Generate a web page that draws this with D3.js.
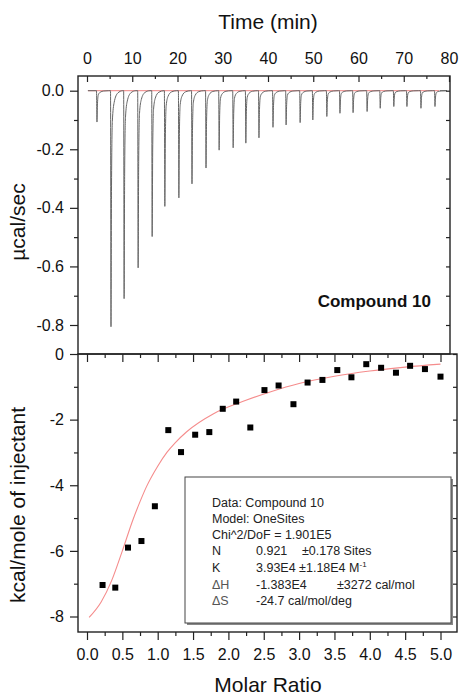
<!DOCTYPE html>
<html>
<head>
<meta charset="utf-8">
<script src="https://cdn.jsdelivr.net/npm/d3@7"></script>
<style>
  body { margin: 0; background: #fff; }
  text { font-family: "Liberation Sans", Arial, sans-serif; fill: #111; }
  .axis path { display: none; }
  .axis line { stroke: #222; stroke-width: 1.2; }
</style>
</head>
<body>
<div id="chart"></div>
<script>
// raw thermogram: injection times (min) and peak minimum (ucal/sec)
var injTime = [2.2, 5.3, 8.2, 11.3, 14.4, 17.2, 20.3, 23.2, 26.3, 29.2, 32.3, 35.1, 38.0,
               41.1, 44.0, 47.1, 49.9, 53.0, 55.9, 58.8, 61.9, 64.8, 67.8, 70.7, 73.8, 76.9];
var injPeak = [-0.107, -0.806, -0.71, -0.605, -0.498, -0.395, -0.366, -0.318, -0.264, -0.203,
               -0.195, -0.179, -0.161, -0.125, -0.117, -0.109, -0.10, -0.088, -0.077, -0.075,
               -0.071, -0.06, -0.054, -0.054, -0.06, -0.054];

// integrated heats
var molarRatio = [0.22, 0.40, 0.58, 0.77, 0.96, 1.15, 1.33, 1.53, 1.73, 1.92, 2.11, 2.31, 2.51,
                  2.71, 2.92, 3.12, 3.33, 3.54, 3.74, 3.95, 4.16, 4.37, 4.57, 4.78, 5.0];
var heatInj = [-7.04, -7.12, -5.9, -5.7, -4.64, -2.32, -2.99, -2.46, -2.38, -1.67, -1.45, -2.24, -1.1,
               -0.96, -1.53, -0.87, -0.79, -0.49, -0.71, -0.31, -0.42, -0.57, -0.36, -0.46, -0.69];

// fitted curve
var fitX = [0.03, 0.2, 0.35, 0.5, 0.65, 0.75, 0.84, 1.0, 1.13, 1.25, 1.41, 1.79, 2.2, 2.6, 3.0, 3.5, 4.0, 4.5, 5.0];
var fitY = [-8.03, -7.56, -6.9, -6.0, -5.05, -4.5, -4.05, -3.42, -3.0, -2.7, -2.37, -1.82, -1.45, -1.15, -0.9, -0.68, -0.52, -0.4, -0.31];

var timeTicks = d3.range(0, 81, 10);
var rateTicks = [0, -0.2, -0.4, -0.6, -0.8];
var ratioTicks = d3.range(0, 5.01, 0.5);
var heatTicks = [0, -2, -4, -6, -8];

var fitRows = [
  ["Data: Compound 10"],
  ["Model: OneSites"],
  ["Chi^2/DoF = 1.901E5"],
  ["N", "0.921", "\u00b10.178 Sites"],
  ["K", "3.93E4 \u00b11.18E4 M"],
  ["\u0394H", "-1.383E4", "\u00b13272 cal/mol"],
  ["\u0394S", "-24.7 cal/mol/deg"]
];

// shape of one injection spike: [minutes after injection, fraction of peak]
var peakProfile = [[-0.1, 0], [0, 1], [0.12, 0.4], [0.3, 0.13], [0.7, 0.05], [1.5, 0.01], [2.6, 0]];

var width = 459, height = 696;

var svg = d3.select("#chart").append("svg")
    .attr("width", width)
    .attr("height", height);

var pTop = {x0: 78, x1: 450, y0: 76, y1: 354},
    pBot = {x0: 78, x1: 457, y0: 354, y1: 632};

var xTime = d3.scaleLinear().domain([0, 80]).range([87, 449]);
var yRate = d3.scaleLinear().domain([0, -0.8]).range([90.7, 325]);
var xRatio = d3.scaleLinear().domain([0, 5]).range([87, 440.5]);
var yHeat = d3.scaleLinear().domain([0, -8]).range([354, 616.5]);

function dash(d) { return d.toFixed(1); }

function addAxis(axis, tx, ty, fs) {
  var g = svg.append("g").attr("class", "axis")
    .attr("transform", "translate(" + tx + "," + ty + ")")
    .call(axis);
  g.selectAll("text").style("font-size", fs + "px").attr("fill", "#111");
  return g;
}

// ---- top panel ----
var trace = [];
injTime.forEach(function(t, i) {
  peakProfile.forEach(function(p) {
    trace.push([t + p[0], injPeak[i] * p[1]]);
  });
});
trace.unshift([0.2, 0]);
trace.push([78, 0]);

svg.append("line")
  .attr("x1", xTime(0.2)).attr("x2", xTime(77.8))
  .attr("y1", yRate(0)).attr("y2", yRate(0))
  .style("stroke", "#f29a9a").style("stroke-width", 1.2);

svg.append("path")
  .datum(trace)
  .attr("d", d3.line()
      .curve(d3.curveMonotoneX)
      .x(function(d) { return xTime(d[0]); })
      .y(function(d) { return yRate(d[1]); }))
  .style("fill", "none")
  .style("stroke", "#666")
  .style("stroke-width", 1);

svg.append("rect")
  .attr("x", pTop.x0).attr("y", pTop.y0)
  .attr("width", pTop.x1 - pTop.x0).attr("height", pTop.y1 - pTop.y0)
  .style("fill", "none").style("stroke", "#222").style("stroke-width", 1.4);

addAxis(d3.axisTop(xTime).tickValues(d3.range(5, 80, 10)).tickSize(-3).tickFormat(""), 0, pTop.y0, 16);
addAxis(d3.axisTop(xTime).tickValues(timeTicks).tickSize(-6).tickPadding(12), 0, pTop.y0, 16);
addAxis(d3.axisLeft(yRate).tickValues([-0.1, -0.3, -0.5, -0.7]).tickSize(4).tickFormat(""), pTop.x0, 0, 16);
addAxis(d3.axisLeft(yRate).tickValues(rateTicks).tickSize(8).tickPadding(6).tickFormat(dash), pTop.x0, 0, 16);
addAxis(d3.axisRight(yRate).tickValues(d3.range(0, -0.85, -0.1)).tickSize(-4).tickFormat(""), pTop.x1, 0, 16);

svg.append("text")
  .attr("x", 431).attr("y", 307)
  .attr("text-anchor", "end")
  .style("font-size", "17px").style("font-weight", "bold")
  .text("Compound 10");

// ---- bottom panel ----
svg.append("rect")
  .attr("x", pBot.x0).attr("y", pBot.y0)
  .attr("width", pBot.x1 - pBot.x0).attr("height", pBot.y1 - pBot.y0)
  .style("fill", "none").style("stroke", "#222").style("stroke-width", 1.4);

var minorRatio = d3.range(0.25, 5, 0.5);
addAxis(d3.axisBottom(xRatio).tickValues(minorRatio).tickSize(4).tickFormat(""), 0, pBot.y0, 15);
addAxis(d3.axisBottom(xRatio).tickValues(ratioTicks).tickSize(8).tickFormat(""), 0, pBot.y0, 15);
addAxis(d3.axisBottom(xRatio).tickValues(minorRatio).tickSize(4).tickFormat(""), 0, pBot.y1, 15);
addAxis(d3.axisBottom(xRatio).tickValues(ratioTicks).tickSize(8).tickPadding(9).tickFormat(dash), 0, pBot.y1, 16);
addAxis(d3.axisLeft(yHeat).tickValues([-1, -3, -5, -7]).tickSize(4).tickFormat(""), pBot.x0, 0, 16);
addAxis(d3.axisLeft(yHeat).tickValues(heatTicks).tickSize(8).tickPadding(6).tickFormat(function(d) { return String(d); }), pBot.x0, 0, 16);
addAxis(d3.axisRight(yHeat).tickValues(d3.range(0, -8.5, -1)).tickSize(-4).tickFormat(""), pBot.x1, 0, 16);

// fit curve
svg.append("path")
  .datum(fitX.map(function(x, i) { return [x, fitY[i]]; }))
  .attr("d", d3.line()
      .curve(d3.curveMonotoneX)
      .x(function(d) { return xRatio(d[0]); })
      .y(function(d) { return yHeat(d[1]); }))
  .style("fill", "none")
  .style("stroke", "#f58c8c")
  .style("stroke-width", 1.1);

svg.selectAll("rect.pt")
  .data(molarRatio)
  .enter()
  .append("rect")
  .attr("class", "pt")
  .attr("x", function(d) { return xRatio(d) - 3; })
  .attr("y", function(d, i) { return yHeat(heatInj[i]) - 3; })
  .attr("width", 6).attr("height", 6)
  .style("fill", "#000");

// fit results box
svg.append("rect")
  .attr("x", 187).attr("y", 479).attr("width", 266).attr("height", 146)
  .style("fill", "#888");
svg.append("rect")
  .attr("x", 185).attr("y", 477).attr("width", 266).attr("height", 146)
  .style("fill", "#fff").style("stroke", "#444").style("stroke-width", 1);

var rowY = [506.5, 522.5, 538.5, 554.5, 571.5, 588.5, 605];
var colX = [212, 256, 302];
fitRows.forEach(function(row, i) {
  row.forEach(function(s, j) {
    var x = colX[j];
    if (i === 5 && j === 2) x = 337;
    var t = svg.append("text")
      .attr("x", x).attr("y", rowY[i])
      .style("font-size", "12.5px")
      .style("fill", s.charAt(0) === "\u0394" ? "#555" : "#222")
      .text(s);
    if (i === 4 && j === 1) {
      t.append("tspan").attr("dy", -5).style("font-size", "8px").text("-1");
    }
  });
});

// ---- titles ----
svg.append("text")
  .attr("x", 268).attr("y", 29)
  .attr("text-anchor", "middle")
  .style("font-size", "21px")
  .text("Time (min)");

svg.append("text")
  .attr("x", 268).attr("y", 692)
  .attr("text-anchor", "middle")
  .style("font-size", "21px")
  .text("Molar Ratio");

svg.append("text")
  .attr("transform", "translate(25,222) rotate(-90)")
  .attr("text-anchor", "middle")
  .style("font-size", "21px")
  .text("\u00b5cal/sec");

svg.append("text")
  .attr("transform", "translate(25,505) rotate(-90)")
  .attr("text-anchor", "middle")
  .style("font-size", "21px")
  .text("kcal/mole of injectant");
</script>
</body>
</html>
